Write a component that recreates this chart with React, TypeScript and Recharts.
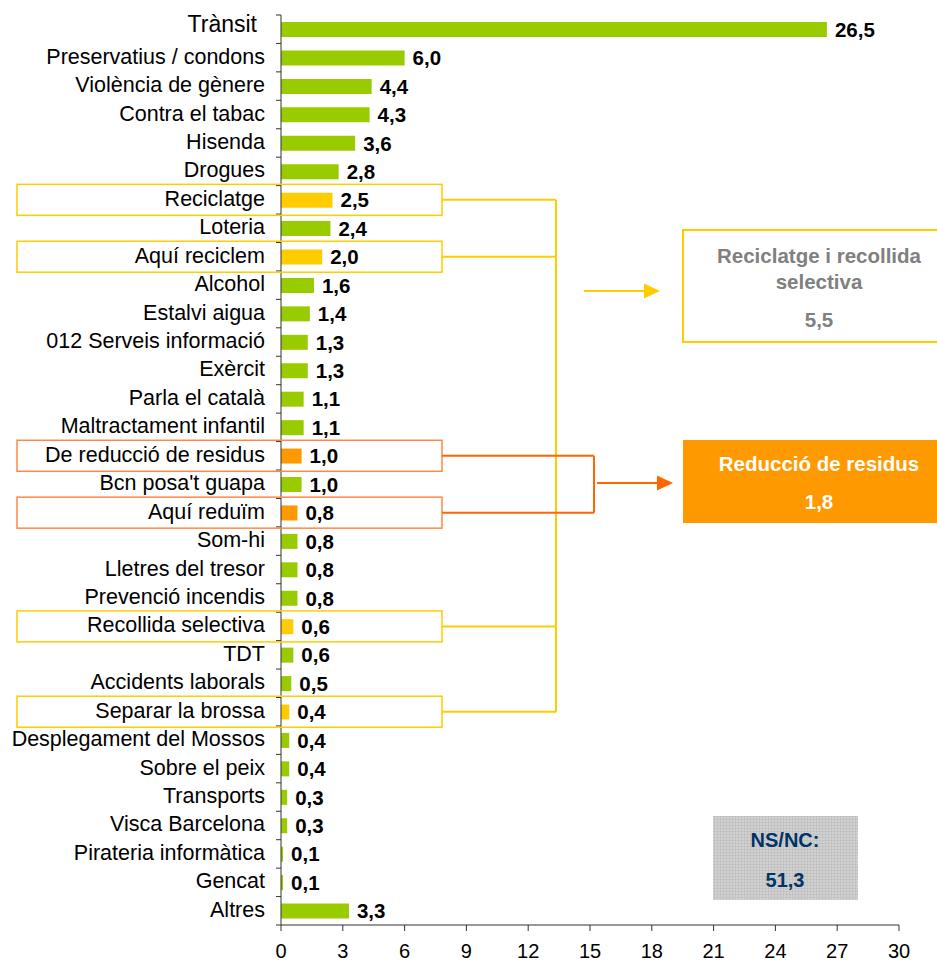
import React from "react";
import { BarChart, Bar, XAxis, YAxis, Cell, LabelList } from "recharts";

const categories = [
  "Trànsit",
  "Preservatius / condons",
  "Violència de gènere",
  "Contra el tabac",
  "Hisenda",
  "Drogues",
  "Reciclatge",
  "Loteria",
  "Aquí reciclem",
  "Alcohol",
  "Estalvi aigua",
  "012 Serveis informació",
  "Exèrcit",
  "Parla el català",
  "Maltractament infantil",
  "De reducció de residus",
  "Bcn posa't guapa",
  "Aquí reduïm",
  "Som-hi",
  "Lletres del tresor",
  "Prevenció incendis",
  "Recollida selectiva",
  "TDT",
  "Accidents laborals",
  "Separar la brossa",
  "Desplegament del Mossos",
  "Sobre el peix",
  "Transports",
  "Visca Barcelona",
  "Pirateria informàtica",
  "Gencat",
  "Altres",
];

const values = [
  26.5, 6.0, 4.4, 4.3, 3.6, 2.8, 2.5, 2.4, 2.0, 1.6, 1.4, 1.3, 1.3, 1.1, 1.1, 1.0,
  1.0, 0.8, 0.8, 0.8, 0.8, 0.6, 0.6, 0.5, 0.4, 0.4, 0.4, 0.3, 0.3, 0.1, 0.1, 3.3,
];

// "rec" = reciclatge i recollida selectiva, "red" = reducció de residus
const groups = [
  "", "", "", "", "", "", "rec", "", "rec", "", "", "", "", "", "", "red",
  "", "red", "", "", "", "rec", "", "", "rec", "", "", "", "", "", "", "",
];

const xTicks = [0, 3, 6, 9, 12, 15, 18, 21, 24, 27, 30];

const recyclingTitle = ["Reciclatge i recollida", "selectiva"];
const recyclingTotal = 5.5;
const reductionTitle = "Reducció de residus";
const reductionTotal = 1.8;
const nsncLabel = "NS/NC:";
const nsncValue = 51.3;

const W = 937;
const H = 965;
const TOP = 15;
const Y_W = 281;
const X_H = 40;
const RIGHT = 38;
const BOTTOM_Y = H - X_H;
const BAND = (BOTTOM_Y - TOP) / categories.length;

const FONT = "'Liberation Sans', Arial, sans-serif";
const GREEN = "#99CC00";
const YELLOW = "#FFCC00";
const ORANGE = "#FF9900";
const ORANGE_LINE = "#FF6600";
const AXIS = "#333333";

const fmt = (v: number) => v.toFixed(1).replace(".", ",");
const rowY = (i: number) => TOP + (i + 0.5) * BAND;

const data = categories.map((name, i) => ({ name, value: values[i], group: groups[i] }));

function CatTick(props: any) {
  const { y, payload } = props;
  const i = categories.indexOf(payload.value);
  const first = i === 0;
  return (
    <g>
      <line x1={Y_W - 5} x2={Y_W} y1={y - BAND / 2} y2={y - BAND / 2} stroke={AXIS} />
      {i === categories.length - 1 && (
        <line x1={Y_W - 5} x2={Y_W} y1={y + BAND / 2} y2={y + BAND / 2} stroke={AXIS} />
      )}
      <text
        x={first ? 257 : 265}
        y={y}
        dy={first ? -5 : -1}
        textAnchor="end"
        dominantBaseline="central"
        fontSize={first ? 23 : 21.5}
        fontFamily={FONT}
        fill="#000"
      >
        {payload.value}
      </text>
    </g>
  );
}

function NumTick(props: any) {
  const { x, payload } = props;
  return (
    <text x={x} y={951} textAnchor="middle" dominantBaseline="central" fontSize={20} fontFamily={FONT} fill="#000">
      {payload.value}
    </text>
  );
}

function Annotations() {
  const recRows = groups.map((g, i) => (g === "rec" ? i : -1)).filter((i) => i >= 0);
  const redRows = groups.map((g, i) => (g === "red" ? i : -1)).filter((i) => i >= 0);
  const recX = 556;
  const redX = 594;
  return (
    <svg
      width={W}
      height={H}
      style={{ position: "absolute", left: 0, top: 0, pointerEvents: "none" }}
    >
      <defs>
        <pattern id="grid" width="3" height="3" patternUnits="userSpaceOnUse">
          <rect width="3" height="3" fill="#D0D0D0" />
          <path d="M0 0H3M0 0V3" stroke="#BABABA" strokeWidth="1" />
        </pattern>
      </defs>

      {recRows.map((i) => (
        <g key={"r" + i}>
          <rect x={17} y={rowY(i) - 15.5} width={425} height={31} fill="none" stroke={YELLOW} strokeWidth={1.5} />
          <line x1={442} x2={recX} y1={rowY(i)} y2={rowY(i)} stroke={YELLOW} strokeWidth={2} />
        </g>
      ))}
      <line
        x1={recX}
        x2={recX}
        y1={rowY(recRows[0])}
        y2={rowY(recRows[recRows.length - 1])}
        stroke={YELLOW}
        strokeWidth={2}
      />

      {redRows.map((i) => (
        <g key={"o" + i}>
          <rect x={17} y={rowY(i) - 15.5} width={425} height={31} fill="none" stroke="#FF8844" strokeWidth={1.5} />
          <line x1={442} x2={redX} y1={rowY(i)} y2={rowY(i)} stroke={ORANGE_LINE} strokeWidth={2} />
        </g>
      ))}
      <line
        x1={redX}
        x2={redX}
        y1={rowY(redRows[0])}
        y2={rowY(redRows[redRows.length - 1])}
        stroke={ORANGE_LINE}
        strokeWidth={2}
      />

      {/* arrows */}
      <line x1={584} x2={646} y1={291} y2={291} stroke={YELLOW} strokeWidth={2} />
      <polygon points="644,283.5 660,291 644,298.5" fill={YELLOW} />
      <line x1={597} x2={659} y1={483} y2={483} stroke={ORANGE_LINE} strokeWidth={2} />
      <polygon points="657,475.5 673,483 657,490.5" fill={ORANGE_LINE} />

      {/* recycling summary */}
      <rect x={683} y={230} width={270} height={112} fill="#fff" stroke={YELLOW} strokeWidth={2} />
      <g fontFamily={FONT} fontWeight="bold" fontSize={20.5} fill="#808080" textAnchor="middle">
        <text x={819} y={255} dominantBaseline="central">{recyclingTitle[0]}</text>
        <text x={819} y={281} dominantBaseline="central">{recyclingTitle[1]}</text>
        <text x={819} y={319} dominantBaseline="central">{fmt(recyclingTotal)}</text>
      </g>

      {/* reduction summary */}
      <rect x={683} y={440} width={270} height={83} fill={ORANGE} />
      <g fontFamily={FONT} fontWeight="bold" fontSize={20.5} fill="#fff" textAnchor="middle">
        <text x={819} y={463} dominantBaseline="central">{reductionTitle}</text>
        <text x={819} y={501} dominantBaseline="central">{fmt(reductionTotal)}</text>
      </g>

      {/* NS/NC */}
      <rect x={713} y={816} width={145} height={84} fill="url(#grid)" />
      <g fontFamily={FONT} fontWeight="bold" fontSize={20} fill="#003366" textAnchor="middle">
        <text x={785} y={840} dominantBaseline="central">{nsncLabel}</text>
        <text x={785} y={880} dominantBaseline="central">{fmt(nsncValue)}</text>
      </g>
    </svg>
  );
}

export default function App() {
  return (
    <div style={{ position: "absolute", left: 0, top: 0, width: W, height: H, background: "#fff" }}>
      <BarChart
        width={W}
        height={H}
        data={data}
        layout="vertical"
        margin={{ top: TOP, right: RIGHT, bottom: 0, left: 0 }}
      >
        <XAxis
          type="number"
          domain={[0, 30]}
          ticks={xTicks}
          height={X_H}
          axisLine={{ stroke: AXIS }}
          tickLine={{ stroke: AXIS }}
          tickSize={6}
          tick={<NumTick />}
          interval={0}
        />
        <YAxis
          type="category"
          dataKey="name"
          width={Y_W}
          axisLine={{ stroke: AXIS }}
          tickLine={false}
          interval={0}
          tick={<CatTick />}
        />
        <Bar dataKey="value" barSize={15} isAnimationActive={false}>
          {data.map((d, i) => (
            <Cell key={i} fill={d.group === "rec" ? YELLOW : d.group === "red" ? ORANGE : GREEN} />
          ))}
          <LabelList
            dataKey="value"
            position="right"
            offset={8}
            formatter={(v: any) => fmt(Number(v))}
            style={{ fontWeight: "bold", fontSize: 20.5, fill: "#000", fontFamily: FONT }}
          />
        </Bar>
      </BarChart>
      <Annotations />
    </div>
  );
}
